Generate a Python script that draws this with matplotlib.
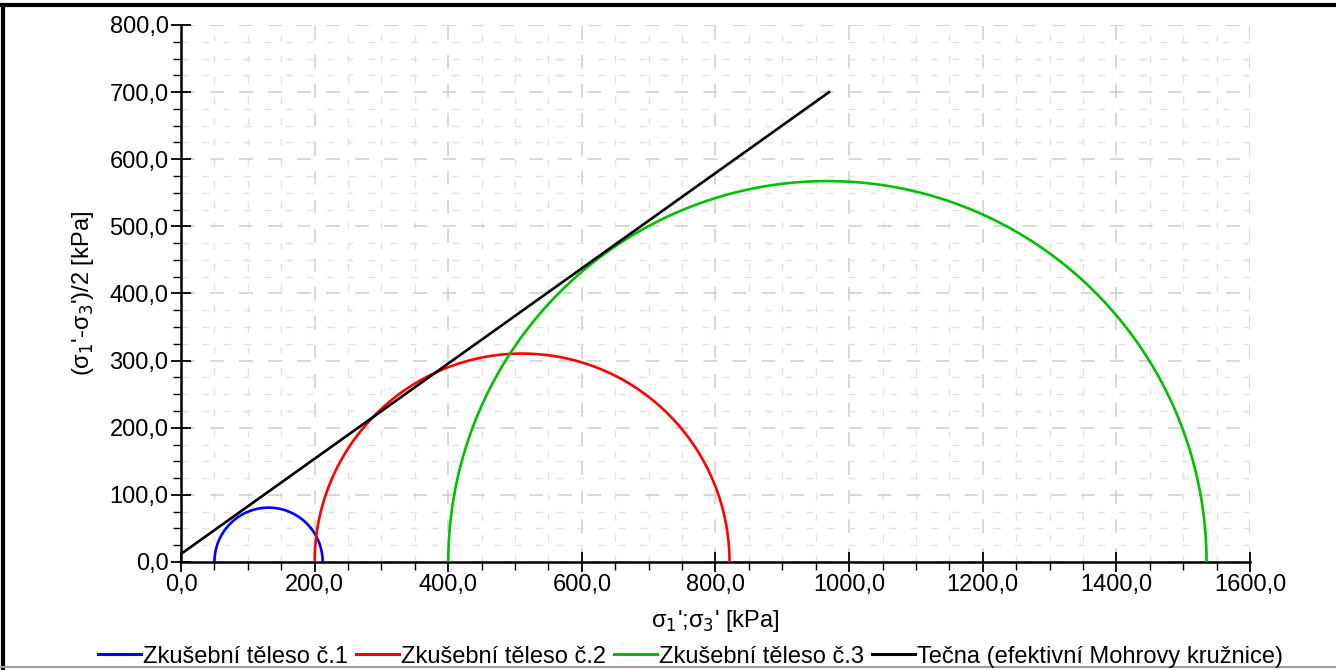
import numpy as np
import matplotlib
matplotlib.use("Agg")
import matplotlib.pyplot as plt
from matplotlib.ticker import MultipleLocator, FuncFormatter
from matplotlib.lines import Line2D

plt.rcParams["font.family"] = ["Liberation Sans", "DejaVu Sans"]

# effective stresses of each test specimen [kPa]
labels = ["Zkušební těleso č.1", "Zkušební těleso č.2", "Zkušební těleso č.3"]
sigma3 = [50.0, 200.0, 400.0]
sigma1 = [212.0, 821.0, 1535.0]
colors = ["#0000ff", "#ff0000", "#00c000"]

# tangent (failure envelope) end points
tangent_label = "Tečna (efektivní Mohrovy kružnice)"
tangent_x = [0.0, 970.0]
tangent_y = [12.0, 700.0]

fig = plt.figure(figsize=(13.36, 6.70), dpi=100)
ax = fig.add_axes([0.1355, 0.1612, 0.8001, 0.8015])

t = np.linspace(np.pi, 0, 400)
for s3, s1, c, lab in zip(sigma3, sigma1, colors, labels):
    centre = (s1 + s3) / 2
    r = (s1 - s3) / 2
    ax.plot(centre + r * np.cos(t), r * np.sin(t), color=c, lw=1.9, label=lab,
            solid_capstyle="butt", zorder=3)
ax.plot(tangent_x, tangent_y, color="black", lw=1.9, label=tangent_label, zorder=4)

ax.set_xlim(0, 1600)
ax.set_ylim(0, 800)
ax.xaxis.set_major_locator(MultipleLocator(200))
ax.xaxis.set_minor_locator(MultipleLocator(50))
ax.yaxis.set_major_locator(MultipleLocator(100))
ax.yaxis.set_minor_locator(MultipleLocator(25))
fmt = FuncFormatter(lambda v, p: f"{v:.1f}".replace(".", ","))
ax.xaxis.set_major_formatter(fmt)
ax.yaxis.set_major_formatter(fmt)

ax.grid(which="minor", color="#e2e2e2", lw=1.0, ls=(0, (5, 10)), zorder=0)
ax.grid(which="major", color="#cdcdcd", lw=1.1, ls=(0, (9, 10)), zorder=0)

for side in ("top", "right"):
    ax.spines[side].set_visible(False)
for side in ("left", "bottom"):
    ax.spines[side].set_linewidth(1.8)
ax.tick_params(which="major", direction="inout", length=14, width=1.3,
               labelsize=17, pad=2)
ax.tick_params(which="minor", direction="out", length=6, width=1.0)

ax.set_xlabel("σ$_1$';σ$_3$' [kPa]", fontsize=17, labelpad=8)
ax.set_ylabel("(σ$_1$'-σ$_3$')/2 [kPa]", fontsize=17, labelpad=10)

handles = [Line2D([], [], color=c, lw=2.2) for c in colors] + \
          [Line2D([], [], color="black", lw=2.2)]
fig.legend(handles, labels + [tangent_label], loc="lower center",
           bbox_to_anchor=(0.517, -0.028), ncol=4, frameon=False, fontsize=17,
           handlelength=1.8, handletextpad=0.1, columnspacing=0.35)

# figure border: thick black top/left, thin grey bottom
fig.add_artist(Line2D([0.002, 0.002], [0, 0.993], transform=fig.transFigure,
                      color="black", lw=3))
fig.add_artist(Line2D([0, 1], [0.993, 0.993], transform=fig.transFigure,
                      color="black", lw=3))
fig.add_artist(Line2D([0, 1], [0.004, 0.004], transform=fig.transFigure,
                      color="#a0a0a0", lw=1.5))

fig.savefig("out.png", dpi=100)
